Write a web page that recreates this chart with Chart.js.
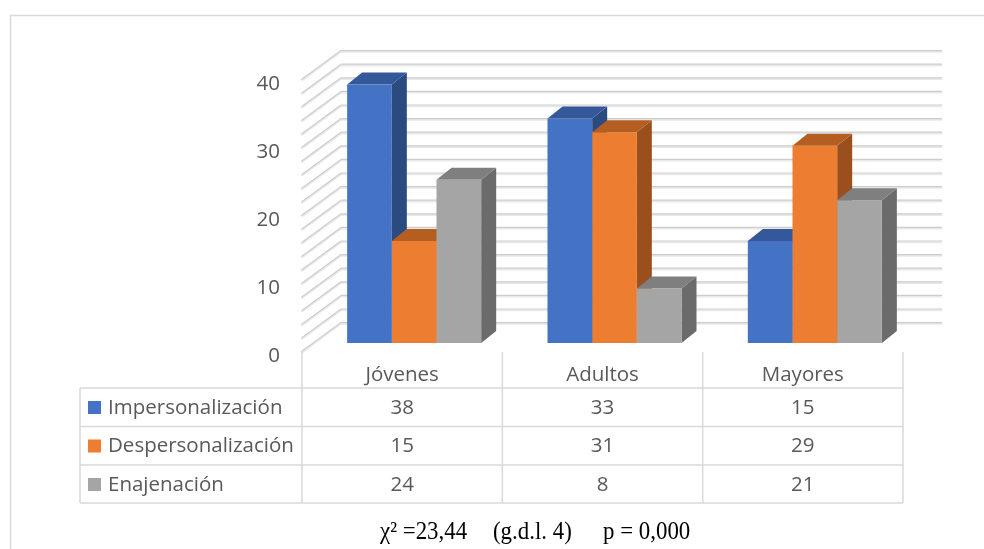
<!DOCTYPE html>
<html>
<head>
<meta charset="utf-8">
<script src="https://cdn.jsdelivr.net/npm/chart.js@4"></script>
<style>
  body { margin: 0; background: #fff; }
  canvas { display: block; }
</style>
</head>
<body>
<canvas id="chart" width="984" height="549"></canvas>
<script>
const categories = ['Jóvenes', 'Adultos', 'Mayores'];
const seriesNames = ['Impersonalización', 'Despersonalización', 'Enajenación'];
const impersonalizacion = [38, 33, 15];
const despersonalizacion = [15, 31, 29];
const enajenacion = [24, 8, 21];
const yTicks = [0, 10, 20, 30, 40];
const gridStep = 2;
const footerParts = ['χ² =23,44', '(g.d.l. 4)', 'p = 0,000'];

const colors = {
  front: ['#4472C4', '#ED7D31', '#A5A5A5'],
  top: ['#34589A', '#B55E22', '#7F7F7F'],
  side: ['#2B4A80', '#9B4F1D', '#6B6B6B']
};

// fake 3d offsets (px) relative to the bar front plane
const FRONT = { x: -12.5, y: 8.6 };
const BACK = { x: 27, y: -20.4 };
const DEPTH = { x: 15, y: -12 };
const textColor = '#595959';
const lineColor = '#d9d9d9';

function poly(ctx, pts, fill) {
  ctx.beginPath();
  ctx.moveTo(pts[0][0], pts[0][1]);
  for (let i = 1; i < pts.length; i++) ctx.lineTo(pts[i][0], pts[i][1]);
  ctx.closePath();
  ctx.fillStyle = fill;
  ctx.fill();
}

function line(ctx, x1, y1, x2, y2) {
  ctx.beginPath();
  ctx.moveTo(x1, y1);
  ctx.lineTo(x2, y2);
  ctx.stroke();
}

const threeD = {
  id: 'threeD',
  beforeDatasetsDraw(chart) {
    const { ctx, chartArea: a, scales: { y } } = chart;
    ctx.save();
    // walls
    for (let v = 0; v <= yTicks[yTicks.length - 1]; v += gridStep) {
      const yy = y.getPixelForValue(v);
      ctx.lineWidth = 2;
      ctx.strokeStyle = '#e9e9e9';
      line(ctx, a.left + FRONT.x, yy + FRONT.y + 1.2, a.left + BACK.x, yy + BACK.y + 1.2);
      line(ctx, a.left + BACK.x, yy + BACK.y + 1.2, a.right + BACK.x, yy + BACK.y + 1.2);
      ctx.lineWidth = 1.2;
      ctx.strokeStyle = '#cdcdcd';
      line(ctx, a.left + FRONT.x, yy + FRONT.y, a.left + BACK.x, yy + BACK.y);
      line(ctx, a.left + BACK.x, yy + BACK.y, a.right + BACK.x, yy + BACK.y);
    }
    // sides and tops, left to right so the next front hides them
    categories.forEach((c, i) => {
      chart.data.datasets.forEach((ds, d) => {
        const bar = chart.getDatasetMeta(d).data[i];
        const { x, y: top, base, width } = bar.getProps(['x', 'y', 'base', 'width'], true);
        const l = x - width / 2, r = x + width / 2;
        poly(ctx, [[r, top], [r + DEPTH.x, top + DEPTH.y], [r + DEPTH.x, base + DEPTH.y], [r, base]], colors.side[d]);
        poly(ctx, [[l, top], [r, top], [r + DEPTH.x, top + DEPTH.y], [l + DEPTH.x, top + DEPTH.y]], colors.top[d]);
      });
    });
    ctx.restore();
  },
  afterDraw(chart) {
    const { ctx, chartArea: a, scales: { x, y } } = chart;
    ctx.save();

    // outer frame
    ctx.strokeStyle = lineColor;
    ctx.lineWidth = 1.5;
    ctx.strokeRect(10.5, 15.5, 1000, 600);

    // y labels on the front plane
    ctx.font = '20.5px "Open Sans"';
    ctx.fillStyle = textColor;
    ctx.textAlign = 'right';
    ctx.textBaseline = 'middle';
    yTicks.forEach(v => ctx.fillText(String(v), 280, y.getPixelForValue(v) + FRONT.y + 4.5));

    // data table
    const catW = (a.right - a.left) / categories.length;
    const shift = -12;
    const tLeft = 80;
    const headTop = 352;
    const rowTops = [388, 426.5, 465];
    const tBottom = 503;
    const edges = [];
    for (let i = 0; i < categories.length; i++) edges.push(x.getPixelForValue(i) - catW / 2 + shift);
    edges.push(x.getPixelForValue(categories.length - 1) + catW / 2 + shift);

    ctx.strokeStyle = lineColor;
    ctx.lineWidth = 1.5;
    edges.forEach(e => line(ctx, e, headTop, e, tBottom));
    line(ctx, tLeft, rowTops[0], tLeft, tBottom);
    rowTops.concat([tBottom]).forEach(r => line(ctx, tLeft, r, edges[edges.length - 1], r));

    ctx.textAlign = 'center';
    categories.forEach((c, i) => ctx.fillText(c, x.getPixelForValue(i) + shift, 375));

    const series = [impersonalizacion, despersonalizacion, enajenacion];
    series.forEach((vals, s) => {
      const cy = rowTops[s] + 20;
      ctx.fillStyle = colors.front[s];
      ctx.fillRect(88, cy - 7, 13, 13);
      ctx.fillStyle = textColor;
      ctx.textAlign = 'left';
      ctx.fillText(seriesNames[s], 108, cy);
      ctx.textAlign = 'center';
      vals.forEach((v, i) => ctx.fillText(String(v), x.getPixelForValue(i) + shift, cy));
    });

    // footer statistic
    ctx.fillStyle = '#000';
    ctx.font = '22px "Liberation Serif"';
    ctx.textAlign = 'left';
    ctx.textBaseline = 'alphabetic';
    [380, 493, 603].forEach((px, k) => {
      ctx.save();
      ctx.translate(px, 539);
      ctx.scale(1.04, 1.15);
      ctx.fillText(footerParts[k], 0, 0);
      ctx.restore();
    });
    ctx.restore();
  }
};

new Chart(document.getElementById('chart'), {
  type: 'bar',
  data: {
    labels: categories,
    datasets: [
      { label: seriesNames[0], data: impersonalizacion, backgroundColor: colors.front[0] },
      { label: seriesNames[1], data: despersonalizacion, backgroundColor: colors.front[1] },
      { label: seriesNames[2], data: enajenacion, backgroundColor: colors.front[2] }
    ]
  },
  options: {
    responsive: false,
    animation: false,
    devicePixelRatio: 1,
    layout: { padding: { left: 314, right: 69, top: 71, bottom: 206 } },
    datasets: { bar: { categoryPercentage: 0.669, barPercentage: 1, borderWidth: 0 } },
    scales: {
      x: { display: false },
      y: { display: false, min: 0, max: 40 }
    },
    plugins: { legend: { display: false }, tooltip: { enabled: false } }
  },
  plugins: [threeD]
});
</script>
</body>
</html>
